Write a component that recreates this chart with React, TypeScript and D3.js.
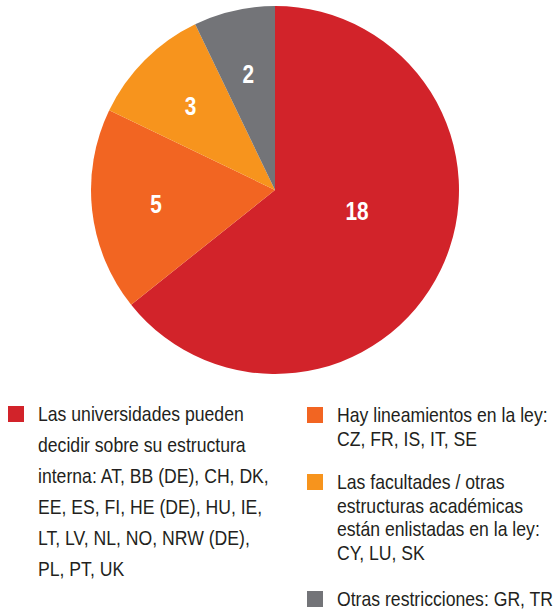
import React, { useEffect, useRef } from 'react';
import * as d3 from 'd3';

const categories = ['universidades', 'lineamientos', 'facultades', 'otras'];
const values = [18, 5, 3, 2];
const colors = ['#D2232A', '#F26522', '#F7941D', '#737478'];
const legendLines = [
  [
    'Las universidades pueden',
    'decidir sobre su estructura',
    'interna: AT, BB (DE), CH, DK,',
    'EE, ES, FI, HE (DE), HU, IE,',
    'LT, LV, NL, NO, NRW (DE),',
    'PL, PT, UK',
  ],
  ['Hay lineamientos en la ley:', 'CZ, FR, IS, IT, SE'],
  [
    'Las facultades / otras',
    'estructuras académicas',
    'están enlistadas en la ley:',
    'CY, LU, SK',
  ],
  ['Otras restricciones: GR, TR'],
];

const W = 553;
const H = 612;
const FONT = "'Liberation Sans', Arial, sans-serif";

const App = () => {
  const ref = useRef<SVGSVGElement>(null);

  useEffect(() => {
    const svg = d3.select(ref.current);
    svg.selectAll('*').remove();

    const cx = 275;
    const cy = 190;
    const r = 184;

    const pie = d3
      .pie<number>()
      .sort(null)
      .value(d => d);
    const arcs = pie(values);

    const arc = d3.arc<d3.PieArcDatum<number>>().innerRadius(0).outerRadius(r);
    const labelArc = d3
      .arc<d3.PieArcDatum<number>>()
      .innerRadius(r * 0.65)
      .outerRadius(r * 0.65);

    const g = svg.append('g').attr('transform', `translate(${cx},${cy})`);

    g.selectAll('path.slice')
      .data(arcs)
      .enter()
      .append('path')
      .attr('class', 'slice')
      .attr('d', arc)
      .attr('fill', (d, i) => colors[i]);

    // big slice label sits closer to the centre than the others
    const labelPos = (d: d3.PieArcDatum<number>) => {
      if (d.endAngle - d.startAngle > Math.PI) {
        const a = (d.startAngle + d.endAngle) / 2 - 0.2;
        return [Math.sin(a) * r * 0.46, -Math.cos(a) * r * 0.46];
      }
      return labelArc.centroid(d);
    };

    g.selectAll('text.val')
      .data(arcs)
      .enter()
      .append('text')
      .attr('class', 'val')
      .attr('transform', d => {
        const p = labelPos(d);
        return `translate(${p[0]},${p[1]}) scale(0.8,1)`;
      })
      .attr('dy', '0.36em')
      .attr('text-anchor', 'middle')
      .attr('fill', '#fff')
      .attr('font-family', FONT)
      .attr('font-weight', 'bold')
      .attr('font-size', 26)
      .text(d => d.data);

    // legend
    const legendPos = [
      { x: 8, y: 414, lh: 31 },
      { x: 307, y: 415, lh: 24 },
      { x: 307, y: 482, lh: 23.4 },
      { x: 307, y: 599, lh: 23 },
    ];
    const sq = 16;

    const items = svg
      .selectAll('g.legend')
      .data(categories)
      .enter()
      .append('g')
      .attr('class', 'legend')
      .attr('transform', (d, i) => `translate(${legendPos[i].x},${legendPos[i].y})`);

    items
      .append('rect')
      .attr('x', 0)
      .attr('y', -sq / 2)
      .attr('width', sq)
      .attr('height', sq)
      .attr('fill', (d, i) => colors[i]);

    items.each(function (d, i) {
      d3.select(this)
        .selectAll('text')
        .data(legendLines[i])
        .enter()
        .append('text')
        .attr('transform', (t, j) => `translate(30,${j * legendPos[i].lh}) scale(0.86,1)`)
        .attr('dy', '0.36em')
        .attr('fill', '#231F20')
        .attr('font-family', FONT)
        .attr('font-size', 20.5)
        .text(t => t);
    });
  }, []);

  return (
    <svg
      ref={ref}
      width={W}
      height={H}
      style={{ position: 'absolute', left: 0, top: 0, background: '#fff' }}
    />
  );
};

export default App;
